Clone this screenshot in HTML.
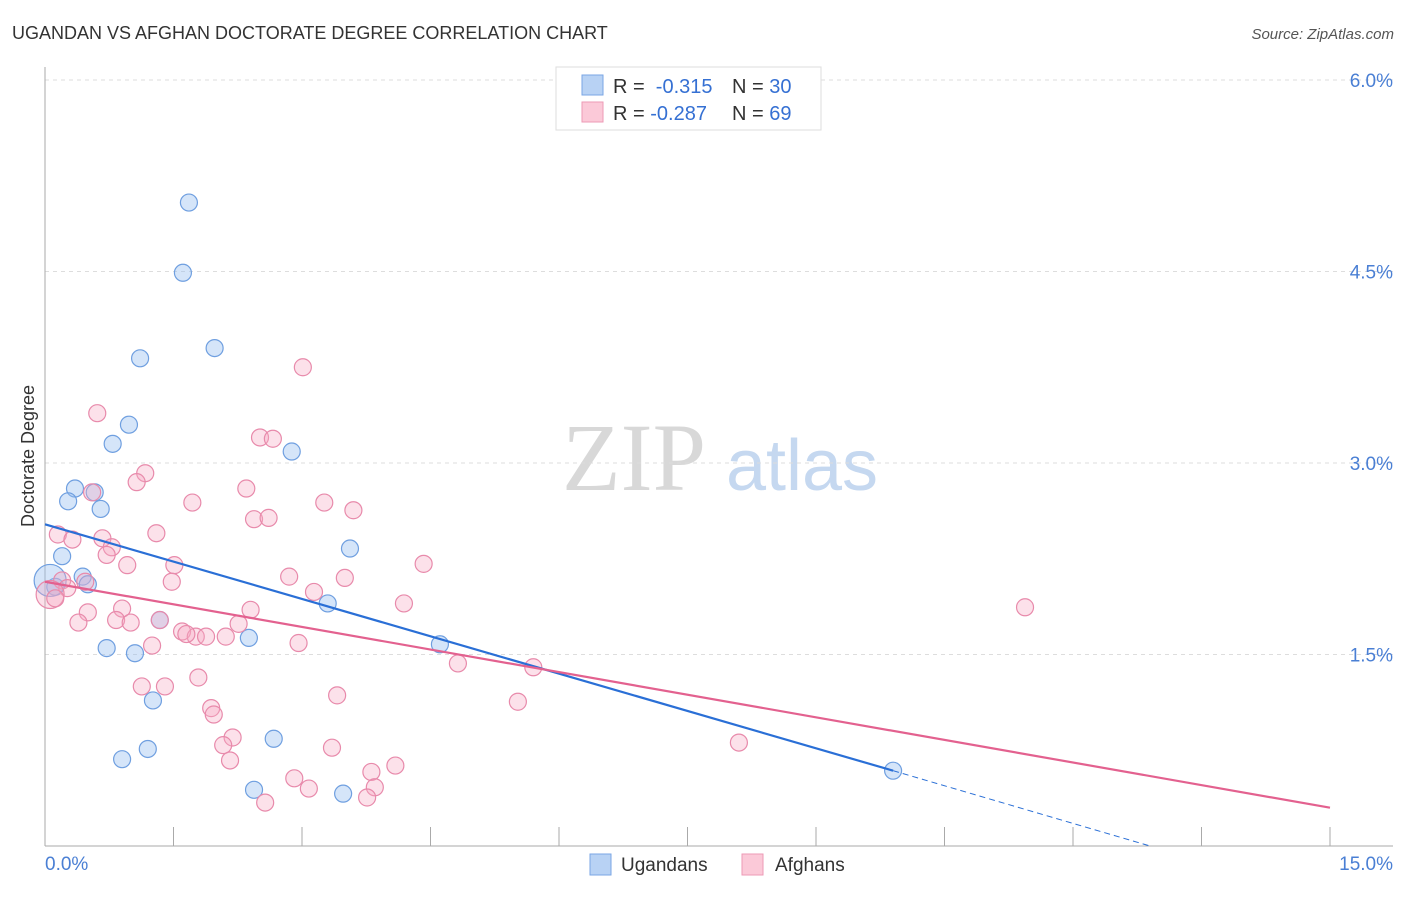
<!DOCTYPE html>
<html><head><meta charset="utf-8"><style>
body{margin:0;background:#fff;font-family:"Liberation Sans",sans-serif;}
svg text{font-family:"Liberation Sans",sans-serif;}
</style></head><body>
<svg id="chart" width="1406" height="892" xmlns="http://www.w3.org/2000/svg">
<text x="12" y="39" font-size="18" fill="#333">UGANDAN VS AFGHAN DOCTORATE DEGREE CORRELATION CHART</text>
<text x="1394" y="39" font-size="15" fill="#555" font-style="italic" text-anchor="end">Source: ZipAtlas.com</text>
<g>
<text x="634" y="490" font-size="96" font-family="Liberation Serif,serif" fill="#d8d8d8" text-anchor="middle" style="font-family:'Liberation Serif',serif">ZIP</text>
<text x="802" y="490" font-size="72" fill="#c5d8f0" text-anchor="middle">atlas</text>
</g>
<g id="grid"></g>
<g id="axes"></g>
<g id="marks"></g>
<text transform="translate(34,456) rotate(-90)" font-size="18" fill="#333" text-anchor="middle">Doctorate Degree</text>
<g>
<rect x="556" y="67" width="265" height="63" fill="#fff" stroke="#ddd"/>
<rect x="582" y="75" width="21" height="20" fill="#b8d2f4" stroke="#7aa6e4"/>
<rect x="582" y="102" width="21" height="20" fill="#fbc9d8" stroke="#ec9ab6"/>
<text x="613" y="93" font-size="20" fill="#333">R = <tspan fill="#3570d3">&#160;-0.315</tspan><tspan x="732">N = </tspan><tspan fill="#3570d3">30</tspan></text>
<text x="613" y="120" font-size="20" fill="#333">R = <tspan fill="#3570d3">-0.287</tspan><tspan x="732">N = </tspan><tspan fill="#3570d3">69</tspan></text>
</g>
<g>
<rect x="590" y="854" width="21" height="21" fill="#b8d2f4" stroke="#7aa6e4"/>
<text x="621" y="871" font-size="19" fill="#333">Ugandans</text>
<rect x="742" y="854" width="21" height="21" fill="#fbc9d8" stroke="#ec9ab6"/>
<text x="775" y="871" font-size="19" fill="#333">Afghans</text>
</g>
</svg>
<script>
const xTicks=[0,1.5,3,4.5,6,7.5,9,10.5,12,13.5,15];
const yTicks=[1.5,3.0,4.5,6.0];
const yTickLabels=["1.5%","3.0%","4.5%","6.0%"];
const xEndLabels=["0.0%","15.0%"];
const blueX=[1.68,1.61,1.11,1.98,0.98,0.79,2.88,0.35,0.58,0.27,0.65,3.56,0.20,0.44,0.50,0.12,0.06,3.30,1.34,2.38,4.61,0.72,1.05,1.26,1.20,0.90,2.67,2.44,3.48,9.90];
const blueY=[5.04,4.49,3.82,3.90,3.30,3.15,3.09,2.80,2.77,2.70,2.64,2.33,2.27,2.11,2.05,2.03,2.08,1.90,1.77,1.63,1.58,1.55,1.51,1.14,0.76,0.68,0.84,0.44,0.41,0.59];
const blueBig=[16];
const pinkX=[3.01,0.61,2.51,2.66,1.17,1.07,0.55,2.35,1.72,3.26,3.60,2.44,2.61,0.15,1.30,0.32,0.67,0.78,0.72,0.96,1.51,4.42,2.85,3.50,1.48,0.20,0.47,0.26,0.06,0.12,3.14,4.19,11.44,2.40,0.90,0.50,0.39,0.83,1.00,1.34,2.26,1.60,1.76,1.65,1.88,2.11,2.96,1.25,4.82,5.70,1.13,1.40,1.79,3.41,1.94,1.97,5.52,2.19,2.08,3.35,8.10,2.16,3.81,4.09,2.91,3.08,3.85,3.76,2.57];
const pinkY=[3.75,3.39,3.20,3.19,2.92,2.85,2.77,2.80,2.69,2.69,2.63,2.56,2.57,2.44,2.45,2.40,2.41,2.34,2.28,2.20,2.20,2.21,2.11,2.10,2.07,2.08,2.07,2.02,1.97,1.94,1.99,1.90,1.87,1.85,1.86,1.83,1.75,1.77,1.75,1.77,1.74,1.68,1.64,1.66,1.64,1.64,1.59,1.57,1.43,1.40,1.25,1.25,1.32,1.18,1.08,1.03,1.13,0.85,0.79,0.77,0.81,0.67,0.58,0.63,0.53,0.45,0.46,0.38,0.34];
const pinkBig=[28];
const blueTrend=[[0,2.52],[9.9,0.59]];
const blueTrendDash=[[9.9,0.59],[12.9,0]];
const pinkTrend=[[0,2.07],[15,0.3]];
const X=v=>45+v/15*1285;
const Y=v=>846-v/1.5*191.5;
const NS="http://www.w3.org/2000/svg";
function mk(parent,tag,attrs){const e=document.createElementNS(NS,tag);for(const k in attrs)e.setAttribute(k,attrs[k]);document.getElementById(parent).appendChild(e);return e;}
yTicks.forEach((t,i)=>{
 const g=mk('grid','line',{x1:45,x2:1393,y1:Y(t),y2:Y(t),stroke:'#ddd','stroke-dasharray':'4,4'});
 
 
 const l=mk('axes','text',{x:1393,y:Y(t)+7,'font-size':19,fill:'#4a7fd4','text-anchor':'end'});
 l.textContent=yTickLabels[i];
 
 
});
const ya=mk('axes','line',{x1:45,x2:45,y1:67,y2:846,stroke:'#aaa'});


const xa=mk('axes','line',{x1:45,x2:1393,y1:846,y2:846,stroke:'#aaa'});


xTicks.forEach(t=>{
 const k=mk('axes','line',{x1:X(t),x2:X(t),y1:827,y2:846,stroke:'#aaa'});
 
 
});
const l0=mk('axes','text',{x:45,y:870,'font-size':19,fill:'#4a7fd4'});
l0.textContent=xEndLabels[0];


const l1=mk('axes','text',{x:1393,y:870,'font-size':19,fill:'#4a7fd4','text-anchor':'end'});
l1.textContent=xEndLabels[1];


blueX.forEach((x,i)=>{
 const r=blueBig.includes(i)?16:8.5;
 const c=mk('marks','circle',{cx:X(x),cy:Y(blueY[i]),r:r,fill:'rgba(150,190,240,0.4)',stroke:'#6f9fe0','stroke-width':1.2});
 
 
});
pinkX.forEach((x,i)=>{
 const r=pinkBig.includes(i)?14:8.5;
 const c=mk('marks','circle',{cx:X(x),cy:Y(pinkY[i]),r:r,fill:'rgba(245,170,195,0.35)',stroke:'#e88aab','stroke-width':1.2});
 
 
});
const bt=mk('marks','line',{x1:X(blueTrend[0][0]),y1:Y(blueTrend[0][1]),x2:X(blueTrend[1][0]),y2:Y(blueTrend[1][1]),stroke:'#2a6fd6','stroke-width':2.2});


const bd=mk('marks','line',{x1:X(blueTrendDash[0][0]),y1:Y(blueTrendDash[0][1]),x2:X(blueTrendDash[1][0]),y2:Y(blueTrendDash[1][1]),stroke:'#2a6fd6','stroke-width':1,'stroke-dasharray':'6,4'});


const pt=mk('marks','line',{x1:X(pinkTrend[0][0]),y1:Y(pinkTrend[0][1]),x2:X(pinkTrend[1][0]),y2:Y(pinkTrend[1][1]),stroke:'#e3618f','stroke-width':2.2});


</script>
</body></html>
